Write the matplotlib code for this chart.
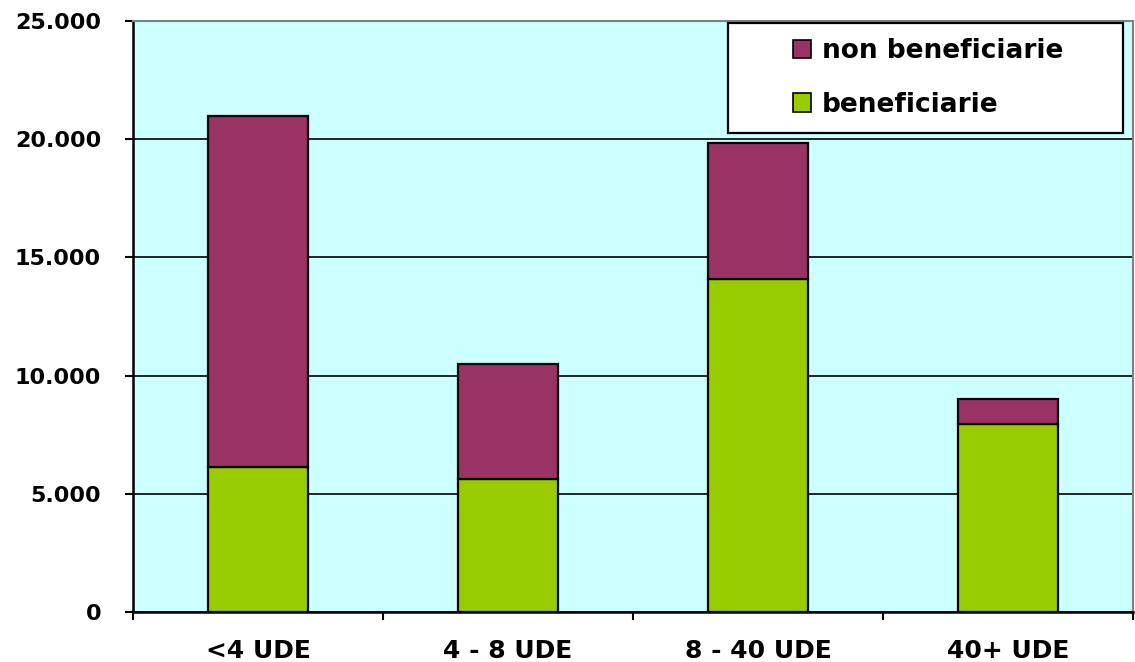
"""Stacked bar chart: beneficiarie / non beneficiarie by farm size class (UDE)."""

import numpy as np
import matplotlib
matplotlib.use('Agg')
import matplotlib.pyplot as plt
from matplotlib.patches import Rectangle, Patch
from matplotlib.ticker import FuncFormatter, FixedLocator

plt.rcParams['font.family'] = ['DejaVu Sans']
plt.rcParams['font.weight'] = 'bold'

# Data
categories = ['<4 UDE', '4 - 8 UDE', '8 - 40 UDE', '40+ UDE']
beneficiarie = [6150, 5650, 14080, 7950]
non_beneficiarie = [14800, 4830, 5740, 1060]
y_ticks = [0, 5000, 10000, 15000, 20000, 25000]

GREEN = '#99CC00'
MAROON = '#993366'
BG = '#CCFFFF'


def thousands(v, _pos):
    return f'{int(v):,}'.replace(',', '.')


fig = plt.figure(figsize=(11.35, 6.62), dpi=100)
ax = fig.add_axes([0.1172, 0.0751, 0.8810, 0.8939])
ax.set_facecolor(BG)

x = np.arange(len(categories))
ax.bar(x, beneficiarie, width=0.4, color=GREEN, edgecolor='black',
       linewidth=1.6, zorder=3)
ax.bar(x, non_beneficiarie, width=0.4, bottom=beneficiarie, color=MAROON,
       edgecolor='black', linewidth=1.6, zorder=3)

ax.set_xlim(-0.5, len(categories) - 0.5)
ax.set_ylim(0, 25000)

# y axis
ax.yaxis.set_major_locator(FixedLocator(y_ticks))
ax.yaxis.set_major_formatter(FuncFormatter(thousands))
ax.tick_params(axis='y', direction='out', length=6, width=1.5, pad=17,
               labelsize=16)
ax.grid(axis='y', color='black', linewidth=1.2, zorder=1)
ax.set_axisbelow(True)

# x axis: ticks at boundaries, labels at centers
ax.set_xticks(np.arange(len(categories) + 1) - 0.5)
ax.set_xticklabels([])
ax.tick_params(axis='x', which='major', direction='out', length=6, width=1.5)
ax.set_xticks(x, minor=True)
ax.set_xticklabels(categories, minor=True)
ax.tick_params(axis='x', which='minor', length=0, pad=19, labelsize=18)

for side in ['left', 'bottom']:
    ax.spines[side].set_linewidth(1.8)
    ax.spines[side].set_color('black')
for side in ['top', 'right']:
    ax.spines[side].set_linewidth(1.5)
    ax.spines[side].set_color('#808080')

# legend box
ax.add_patch(Rectangle((0.595, 0.810), 0.395, 0.186, transform=ax.transAxes,
                       facecolor='white', edgecolor='black', linewidth=1.6,
                       zorder=5))
handles = [Patch(facecolor=MAROON, edgecolor='black', linewidth=1.2),
           Patch(facecolor=GREEN, edgecolor='black', linewidth=1.2)]
leg = ax.legend(handles, ['non beneficiarie', 'beneficiarie'],
                loc='center left', bbox_to_anchor=(0.636, 0.903),
                frameon=False, handlelength=0.7, handleheight=0.7,
                handletextpad=0.4, labelspacing=1.05,
                prop={'weight': 'bold', 'size': 19})
leg.set_zorder(6)

fig.savefig('out.png', dpi=100)
